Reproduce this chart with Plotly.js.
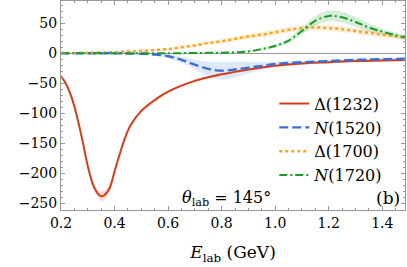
<!DOCTYPE html>
<html>
<head>
<meta charset="utf-8">
<script src="https://cdn.plot.ly/plotly-3.0.1.min.js"></script>
<style>html,body{margin:0;padding:0;background:#fff;}#chart{width:407px;height:267px;}</style>
</head>
<body>
<div id="chart"></div>
<script>
// Δ(1232)
const xDelta1232 = [0.20,0.22,0.24,0.26,0.28,0.30,0.32,0.34,0.35,0.36,0.38,0.40,0.42,0.44,0.46,0.50,0.55,0.60,0.65,0.70,0.75,0.80,0.85,0.90,1.00,1.10,1.20,1.30,1.40,1.50];
const yDelta1232 = [-38,-52,-74,-106,-145,-188,-219,-235,-238,-237,-226,-197,-167,-140,-120,-96,-78,-64,-54,-46,-40,-35,-31,-27,-21,-17,-15,-13,-12,-11];
const eDelta1232 = [2,2,3,3,4,5,6,7,8,8,6,5,4,4,3,3,3,2,2,2,2,2,2,2,2,2,2,2,2,2];

// N(1520)
const xN1520 = [0.20,0.30,0.40,0.50,0.55,0.60,0.65,0.70,0.75,0.80,0.85,0.90,0.95,1.00,1.10,1.20,1.30,1.40,1.50];
const yN1520 = [0,0,0,-1,-2,-5,-11,-19,-26,-29,-27,-24,-21,-18,-15,-13,-11,-10,-9];
const eN1520 = [0,0,0,1,2,3,5,8,12,15,13,10,6,4,2,2,1.5,1.5,1.5];

// Δ(1700)
const xDelta1700 = [0.20,0.30,0.40,0.50,0.60,0.65,0.70,0.75,0.80,0.85,0.90,0.95,1.00,1.05,1.10,1.15,1.20,1.25,1.30,1.35,1.40,1.45,1.50];
const yDelta1700 = [0.5,1,2,4,7,10,13,17,20,24,28,31,35,39,42,43,42,40,37,34,31,28,25];
const eDelta1700 = [0.5,1,1,2,2,3,3,3,4,4,4,5,5,5,5,5,5,5,5,5,5,4,4];

// N(1720)
const xN1720 = [0.20,0.40,0.60,0.70,0.80,0.90,0.95,1.00,1.05,1.10,1.15,1.20,1.22,1.25,1.30,1.35,1.40,1.45,1.50];
const yN1720 = [0,0,0,0.5,1,3,7,12,21,37,54,62,62,60,52,43,36,30,25];
const eN1720 = [0,0,0,0.5,1,1.5,2,3,4,6,8,9,9,9,8,7,5,4,4];

const names = ['Δ(1232)','<i>N</i>(1520)','Δ(1700)','<i>N</i>(1720)'];
const colors = ['#d2401a','#3b6fd6','#fba31a','#1f9a2a'];
const bands = ['rgba(230,110,80,0.22)','rgba(90,140,225,0.20)','rgba(251,170,60,0.20)','rgba(40,170,60,0.20)'];
const dashes = ['solid','9px,4px','3px,3px','8px,3px,2px,3px'];
const widths = [2,2.4,2.4,2];

const series = [
  [xDelta1232,yDelta1232,eDelta1232],
  [xN1520,yN1520,eN1520],
  [xDelta1700,yDelta1700,eDelta1700],
  [xN1720,yN1720,eN1720]
];

const traces = [];
series.forEach((s,i)=>{
  const [x,y,e]=s;
  traces.push({x:x,y:y.map((v,k)=>v+e[k]),mode:'lines',line:{width:0,shape:'spline'},showlegend:false,hoverinfo:'skip'});
  traces.push({x:x,y:y.map((v,k)=>v-e[k]),mode:'lines',line:{width:0,shape:'spline'},fill:'tonexty',fillcolor:bands[i],showlegend:false,hoverinfo:'skip'});
});
series.forEach((s,i)=>{
  const [x,y]=s;
  traces.push({x:x,y:y,mode:'lines',name:names[i],legendgroup:'g'+i,line:{color:colors[i],width:widths[i],dash:dashes[i],shape:'spline'}});
});

const FAM = 'DejaVu Serif';
const f = (size)=>({family:FAM,size:size,color:'#000'});

const layout = {
  width:407,height:267,
  margin:{l:61,r:2,t:1,b:57},
  paper_bgcolor:'#fff',plot_bgcolor:'#fff',
  font:f(14),
  showlegend:true,
  legend:{x:0.62,y:0.59,xanchor:'left',yanchor:'top',traceorder:'grouped',bgcolor:'rgba(0,0,0,0)',font:f(16),tracegroupgap:0,itemwidth:30},
  xaxis:{range:[0.2,1.485],showgrid:false,zeroline:false,showline:true,linecolor:'#999',linewidth:1,mirror:'allticks',
    ticks:'inside',ticklen:4,tickcolor:'#999',tickvals:[0.2,0.4,0.6,0.8,1.0,1.2,1.4],tickformat:'.1f',
    minor:{dtick:0.05,ticks:'inside',ticklen:2,tickcolor:'#999'},
    tickfont:f(14),
    title:{text:'<i>E</i><sub>lab</sub> (GeV)',font:f(17),standoff:16}},
  yaxis:{range:[-261,87],showgrid:false,zeroline:true,zerolinecolor:'#999',zerolinewidth:1,showline:true,linecolor:'#999',linewidth:1,mirror:'allticks',
    ticks:'inside',ticklen:4,tickcolor:'#999',tickvals:[-250,-200,-150,-100,-50,0,50],
    minor:{dtick:10,ticks:'inside',ticklen:2,tickcolor:'#999'},
    tickfont:f(14)},
  annotations:[
    {xref:'paper',yref:'paper',x:0.48,y:0.057,text:'<i>θ</i><sub>lab</sub> = 145°',showarrow:false,font:f(16),xanchor:'center',yanchor:'middle'},
    {xref:'paper',yref:'paper',x:0.99,y:0.057,text:'(b)',showarrow:false,font:f(17),xanchor:'right',yanchor:'middle'}
  ]
};

Plotly.newPlot('chart',traces,layout,{staticPlot:true,displayModeBar:false});
</script>
</body>
</html>
